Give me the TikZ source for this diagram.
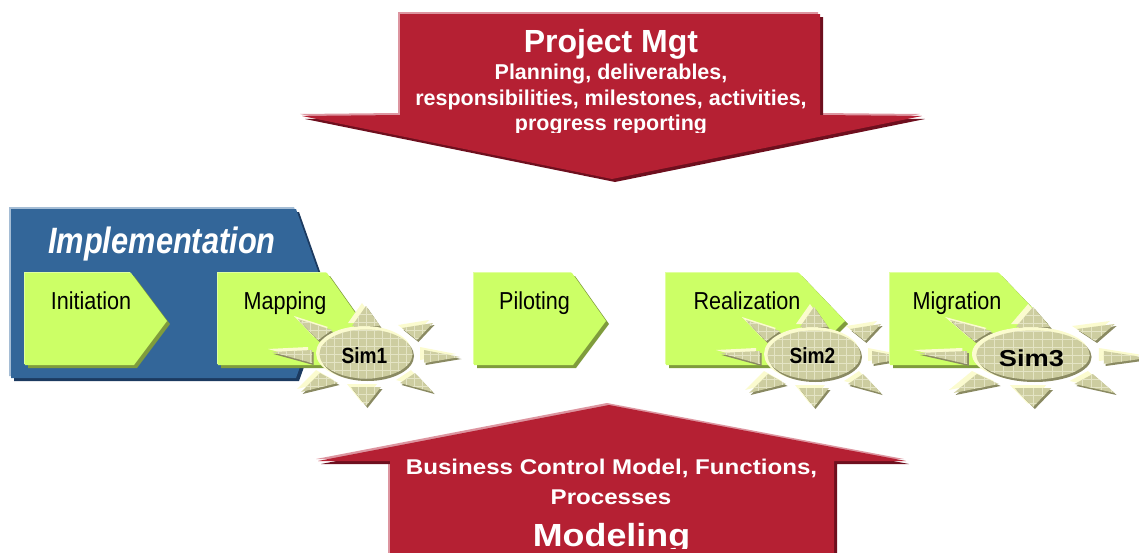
\documentclass[tikz,border=0pt]{standalone}
\usepackage{fontspec}
\setmainfont{Liberation Sans}
\definecolor{redM}{HTML}{B52033}\definecolor{redD}{HTML}{6E0F1E}\definecolor{redP}{HTML}{DD95A0}
\definecolor{blueM}{HTML}{336699}\definecolor{blueD}{HTML}{1C3A60}\definecolor{blueP}{HTML}{A5BDD5}
\definecolor{greenM}{HTML}{CCFF66}\definecolor{greenD}{HTML}{7F9C3C}\definecolor{greenP}{HTML}{E0FF9F}
\definecolor{khaki}{HTML}{CDCDA0}\definecolor{khakiD}{HTML}{8A8A62}\definecolor{khakiP}{HTML}{FBFBCF}\definecolor{khakiG}{HTML}{E4E4C4}
\newcommand{\bevelshape}[4]{%
  \fill[#1,shift={(-2,-2)}] #4;
  \fill[#2,shift={(3,3)}] #4;
  \fill[#3] #4;}
\newcommand{\txt}[8]{% name x y size xscale color font text
  \node[inner sep=0pt,anchor=base,text=#6] (#1) at (#2,#3)
    {\fontsize{#4}{#4}\selectfont#7\scalebox{#5}[1]{#8}};}
\newcommand{\greenbox}[4]{% left shoulder tip-x bottom-shoulder
  \fill[greenP,shift={(-1,-1)}] (#1,273) -- (#2,273) -- (#3,321) -- (#4,365) -- (#1,365) -- cycle;
  \fill[greenD,shift={(3,3)}] (#1,273) -- (#2,273) -- (#3,321) -- (#4,365) -- (#1,365) -- cycle;
  \fill[greenM] (#1,273) -- (#2,273) -- (#3,321) -- (#4,365) -- (#1,365) -- cycle;}
\newcommand{\rays}{%
  (0,-48) -- (-14,-28) -- (14,-28) -- cycle
  (0,52) -- (-15,33) -- (15,33) -- cycle
  (-94,-2) -- (-54,-4) -- (-54,9) -- cycle
  (94,3) -- (58,-4) -- (58,9) -- cycle
  (-68,-35) -- (-34,-24) -- (-48,-14) -- cycle
  (67,-31) -- (36,-26) -- (51,-14) -- cycle
  (-65,38) -- (-46,19) -- (-28,29) -- cycle
  (67,38) -- (34,29) -- (49,19) -- cycle}
\newcommand{\simstar}[3]{% cx cy xscale
  \begin{scope}[shift={(#1,#2)},xscale=#3]
    \fill[khakiP,shift={(-4,-3)}] \rays;
    \fill[khakiD,shift={(1.5,2)}] \rays;
    \fill[khakiP] (-2,-1) ellipse (48 and 27);
    \fill[khakiD] (1.5,2) ellipse (46.5 and 25);
    \begin{scope}
      \clip \rays (0,0) circle[x radius=46.5,y radius=24.5];
      \fill[khaki] (-100,-60) rectangle (100,60);
      \foreach \gx in {-96,-88,...,96} \draw[khakiG,line width=.45pt] (\gx,-60) -- (\gx,60);
      \foreach \gy in {-56,-48,...,56} \draw[khakiG,line width=.45pt] (-100,\gy) -- (100,\gy);
    \end{scope}
  \end{scope}}
\begin{document}
\begin{tikzpicture}[x=.75pt,y=-.75pt]
\useasboundingbox (0,0) rectangle (1139,553);
\clip (0,0) rectangle (1139,553);
% top arrow
\bevelshape{redP}{redD}{redM}{(400,14) -- (820,14) -- (820,115) -- (922,116) -- (612,179) -- (302,116) -- (400,115) -- cycle}
\txt{pm}{611}{52.5}{24}{1}{white}{\bfseries}{Project Mgt}
\txt{pa}{611}{79}{16.1}{1}{white}{\bfseries}{Planning, deliverables,}
\txt{pb}{611}{105}{16.1}{1}{white}{\bfseries}{responsibilities, milestones, activities,}
\begin{scope}
  \clip (400,110) rectangle (820,132.7);
  \txt{pc}{611}{130.5}{16.1}{1}{white}{\bfseries}{progress reporting}
\end{scope}
% bottom arrow
\bevelshape{redP}{redD}{redM}{(609,405) -- (906,461) -- (834,461) -- (834,560) -- (390,560) -- (390,461) -- (318,461) -- cycle}
\txt{ma}{611.5}{474}{16}{1.13}{white}{\bfseries}{Business Control Model, Functions,}
\txt{mb}{611}{504.5}{16}{1.13}{white}{\bfseries}{Processes}
\begin{scope}
  \clip (390,510) rectangle (830,548);
  \txt{mc}{611.5}{546}{24}{1.12}{white}{\bfseries}{Modeling}
\end{scope}
% implementation
\bevelshape{blueP}{blueD}{blueM}{(11,209) -- (296,209) -- (326,294) -- (296,378) -- (11,378) -- cycle}
\txt{impl}{162}{253}{27.5}{.84}{white}{\bfseries\itshape}{Implementation}
% phases
\greenbox{25}{131}{167}{134}
\txt{ini}{91}{309}{18.4}{.88}{black}{}{Initiation}
\greenbox{218}{327}{361}{328}
\txt{map}{285}{309}{18.4}{.88}{black}{}{Mapping}
\simstar{366}{354}{1}
\txt{s1}{364.5}{363}{16.5}{.87}{black}{\bfseries}{Sim1}
\greenbox{474}{572}{606}{573}
\txt{pil}{534.5}{309}{18.4}{.88}{black}{}{Piloting}
\greenbox{666}{799}{845}{800}
\txt{rea}{747}{309}{18.4}{.88}{black}{}{Realization}
\simstar{814}{355}{1}
\txt{s2}{812.5}{363}{16.5}{.87}{black}{\bfseries}{Sim2}
\greenbox{890}{999}{1045}{1000}
\txt{mig}{957}{309}{18.4}{.88}{black}{}{Migration}
\simstar{1033}{355}{1.22}
\txt{s3}{1031.5}{366}{17.3}{1.18}{black}{\bfseries}{Sim3}
\end{tikzpicture}
\end{document}
